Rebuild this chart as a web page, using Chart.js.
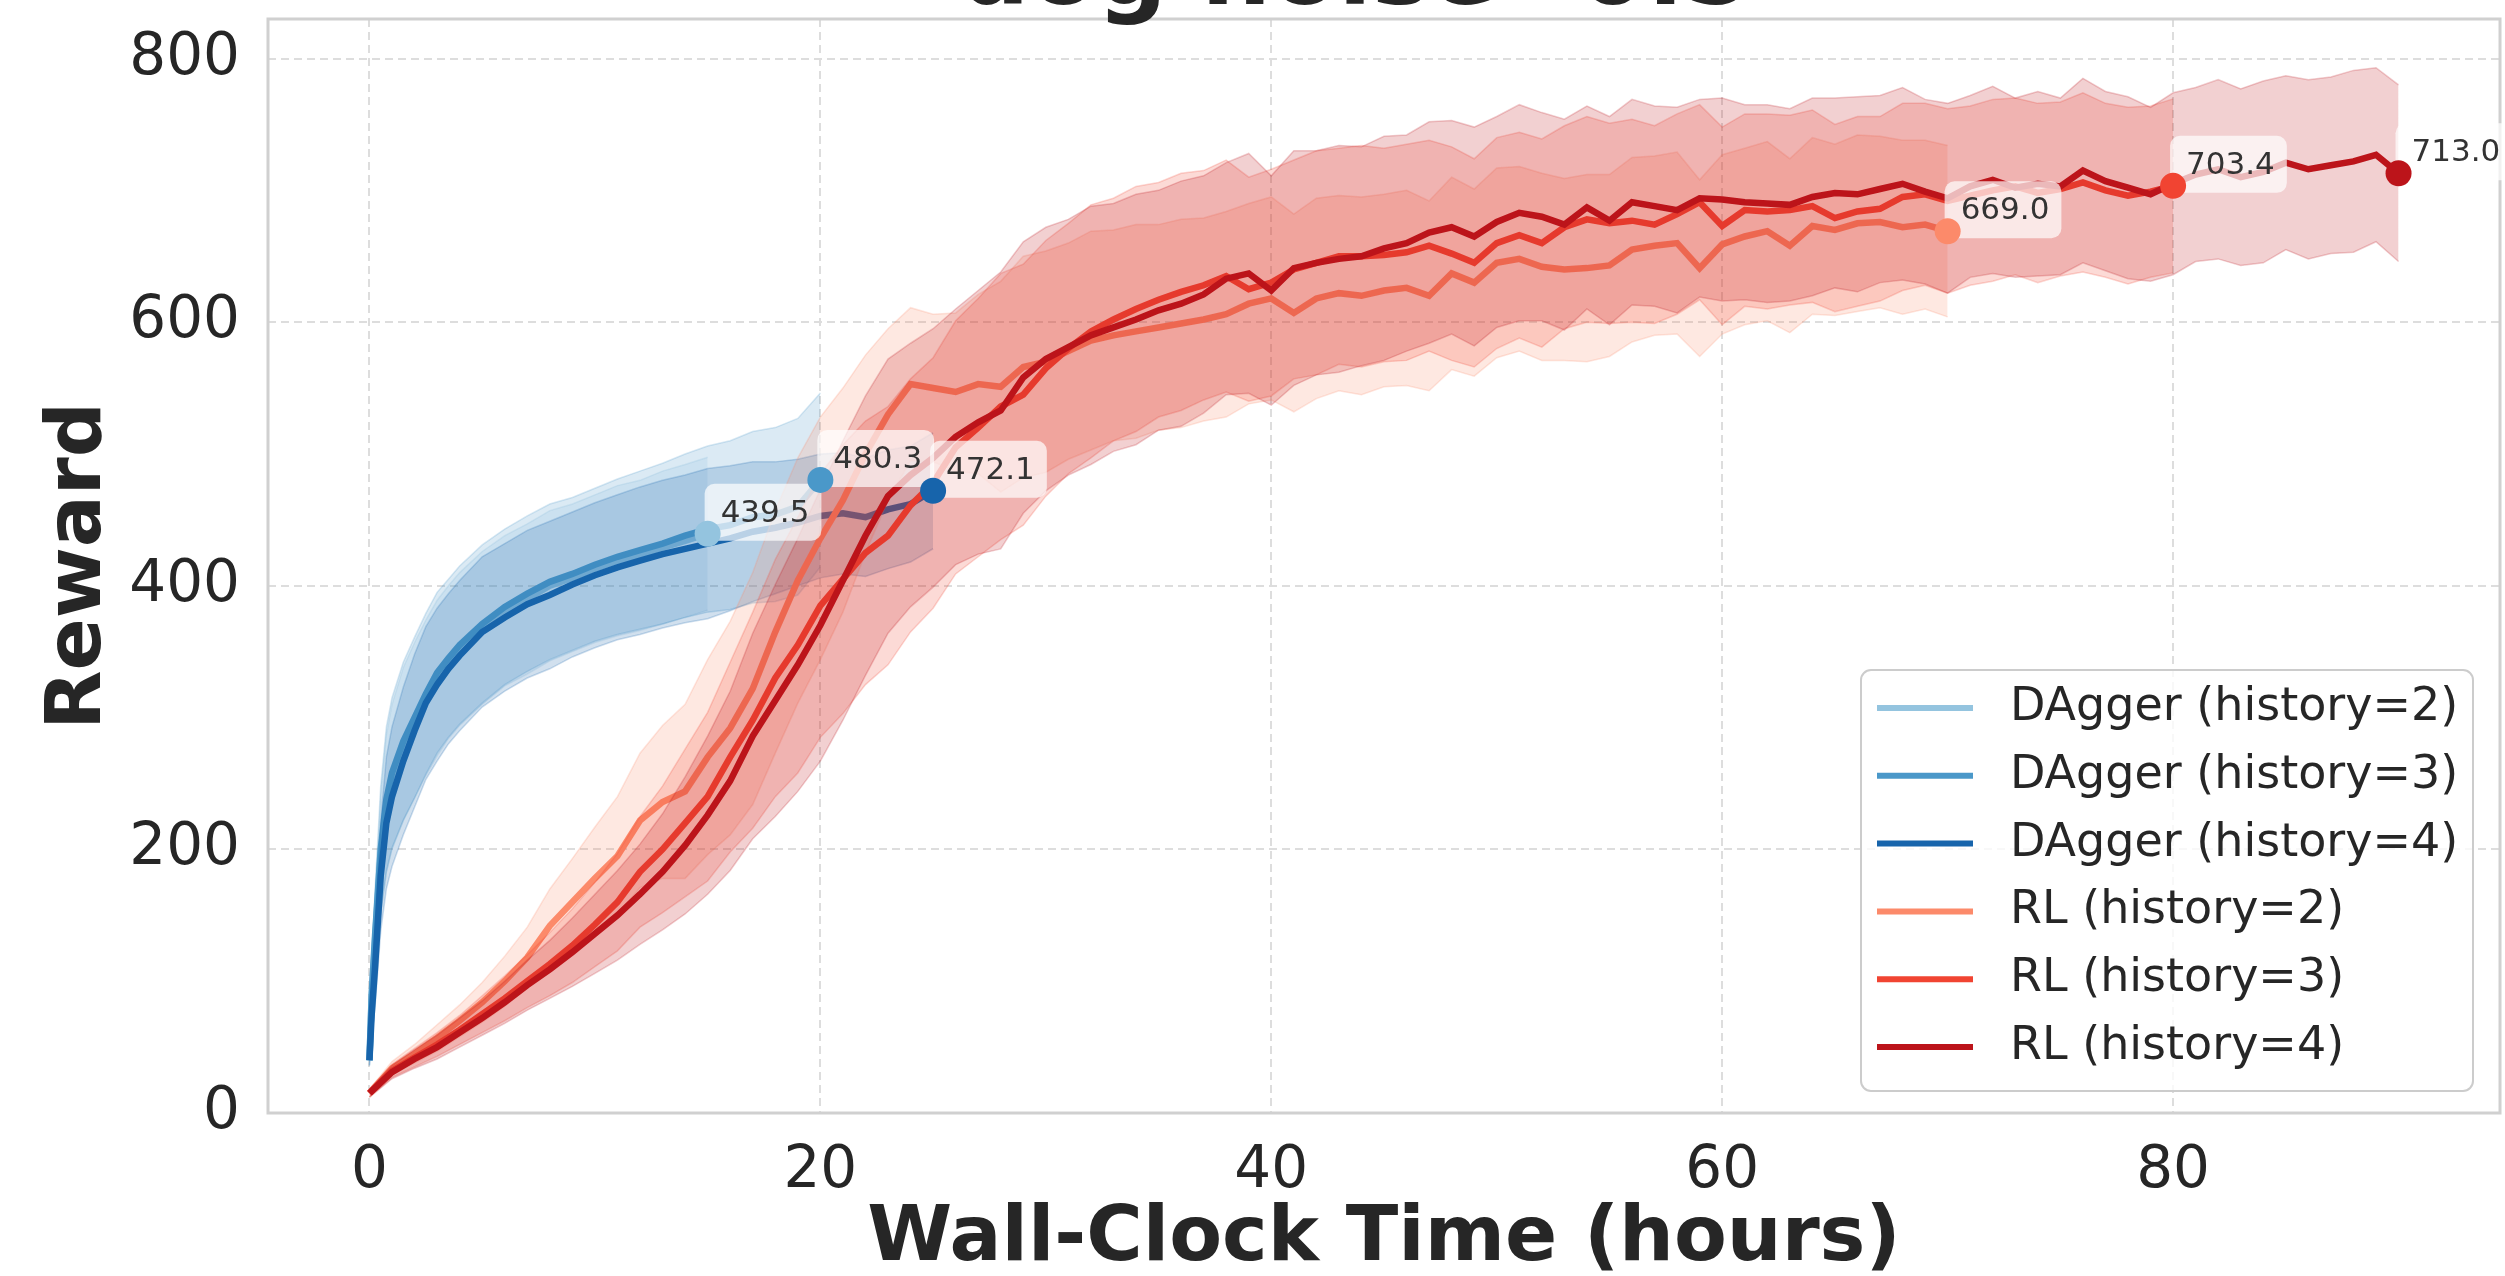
<!DOCTYPE html>
<html>
<head>
<meta charset="utf-8">
<title>Reward vs wall-clock time</title>
<script src="https://cdn.jsdelivr.net/npm/chart.js@4.4.1/dist/chart.umd.min.js"></script>
<style>
  html, body { margin: 0; padding: 0; background: #fff; }
  canvas { display: block; }
</style>
</head>
<body>
<canvas id="rewardChart" width="2505" height="1276"></canvas>
<script>
// Hours at which the DAgger runs were logged (denser at the start, where reward climbs fast)
var dagHours = [0, 0.1, 0.25, 0.5, 0.75, 1, 1.5, 2, 2.5, 3, 3.5, 4, 5, 6, 7, 8, 9, 10,
  11, 12, 13, 14, 15, 16, 17, 18, 19, 20, 21, 22, 23, 24, 25];

var dag2Mean = [40, 88, 132, 196, 235, 255, 280, 298, 315, 330, 342, 352, 368, 381, 390, 400,
  406, 413, 419, 423, 429, 434, 439.5];
var dag2Std = [4, 20, 33, 45, 52, 55, 58, 59, 59, 59, 58, 58, 58, 57, 57, 57, 56, 56, 57, 57,
  58, 58, 58];

var dag3Mean = [40, 90, 135, 200, 238, 258, 282, 300, 318, 334, 345, 355, 371, 384, 394, 403,
  409, 416, 422, 427, 432, 438, 443, 446, 452, 454, 460, 480.3];
var dag3Std = [4, 22, 35, 48, 55, 57, 60, 61, 61, 61, 60, 60, 60, 59, 59, 59, 58, 58, 59, 60,
  61, 62, 63, 64, 65, 66, 67, 66];

var dag4Mean = [40, 75, 111, 180, 220, 240, 267, 290, 311, 325, 337, 347, 365, 376, 386, 393,
  401, 408, 414, 419, 424, 428, 432, 436, 441, 444, 448, 453, 455, 452, 458, 462, 472.1];
var dag4Std = [4, 18, 30, 42, 50, 53, 56, 58, 58, 58, 57, 57, 57, 56, 56, 56, 55, 55, 55, 56,
  56, 56, 57, 55, 53, 50, 48, 47, 46, 45, 45, 44, 44];

// RL runs are logged once per hour
var rlHours = [0, 1, 2, 3, 4, 5, 6, 7, 8, 9, 10, 11, 12, 13, 14, 15, 16, 17, 18, 19,
  20, 21, 22, 23, 24, 25, 26, 27, 28, 29, 30, 31, 32, 33, 34, 35, 36, 37, 38, 39,
  40, 41, 42, 43, 44, 45, 46, 47, 48, 49, 50, 51, 52, 53, 54, 55, 56, 57, 58, 59,
  60, 61, 62, 63, 64, 65, 66, 67, 68, 69, 70, 71, 72, 73, 74, 75, 76, 77, 78, 79,
  80, 81, 82, 83, 84, 85, 86, 87, 88, 89, 90];

var rl2Mean = [15, 34, 45, 57, 70, 84, 100, 118, 142, 160,
  178, 195, 222, 236, 244, 270, 292, 322, 365, 404,
  436, 465, 500, 530, 553, 550, 547, 553, 551, 566,
  570, 578, 586, 590, 593, 596, 599, 602, 606, 614,
  618, 607, 618, 622, 620, 624, 626, 620, 637, 630,
  645, 648, 642, 640, 641, 643, 655, 658, 660, 641,
  659, 665, 669, 658, 673, 670, 675, 676, 672, 674,
  669.0];
var rl2Std = [3, 5, 7, 10, 12, 15, 19, 23, 28, 33,
  39, 45, 51, 58, 66, 74, 81, 88, 92, 93,
  92, 85, 75, 65, 58, 56, 60, 68, 80, 84,
  84, 82, 83, 80, 81, 78, 79, 77, 78, 76,
  77, 75, 76, 74, 75, 73, 74, 72, 73, 71,
  72, 70, 71, 69, 71, 69, 70, 68, 69, 67,
  68, 67, 68, 66, 67, 65, 67, 65, 66, 64,
  65];

var rl3Mean = [15, 32, 42, 52, 63, 75, 87, 100, 113, 127,
  143, 160, 183, 200, 220, 240, 270, 298, 330, 355,
  385, 405, 425, 438, 461, 478, 505, 520, 536, 545,
  565, 580, 593, 602, 610, 617, 623, 628, 635, 625,
  630, 640, 645, 650, 650, 651, 653, 658, 652, 645,
  660, 666, 660, 672, 678, 675, 677, 674, 682, 691,
  673, 685, 684, 685, 688, 679, 684, 686, 695, 697,
  692, 696, 700, 703, 698, 701, 706, 700, 696, 699,
  703.4];
var rl3Std = [3, 5, 7, 9, 11, 14, 17, 20, 24, 28,
  32, 37, 42, 48, 56, 64, 72, 82, 90, 97,
  100, 102, 100, 98, 96, 95, 96, 98, 101, 99,
  97, 95, 96, 92, 93, 89, 90, 87, 88, 85,
  86, 83, 85, 82, 84, 81, 82, 80, 81, 79,
  80, 78, 79, 77, 78, 76, 77, 75, 76, 74,
  75, 73, 74, 72, 73, 71, 72, 70, 71, 69,
  70, 68, 69, 67, 68, 66, 68, 66, 67, 65,
  66];

var rl4Mean = [15, 31, 41, 50, 61, 72, 84, 97, 109, 122,
  136, 150, 166, 183, 203, 226, 252, 286, 313, 340,
  370, 404, 438, 468, 484, 497, 513, 524, 533, 558,
  572, 581, 590, 596, 602, 609, 614, 621, 633, 637,
  624, 641, 645, 648, 650, 656, 660, 668, 672, 665,
  676, 683, 680, 674, 687, 677, 691, 688, 685, 694,
  693, 691, 690, 689, 695, 698, 697, 701, 705, 699,
  694, 703, 708, 702, 705, 703, 715, 707, 702, 697,
  705, 712, 716, 710, 714, 721, 716, 719, 722, 727,
  713.0];
var rl4Std = [3, 5, 7, 9, 11, 13, 16, 19, 22, 26,
  30, 34, 38, 44, 52, 60, 68, 78, 88, 96,
  103, 106, 106, 104, 100, 98, 97, 100, 105, 103,
  100, 97, 98, 94, 95, 91, 93, 90, 88, 91,
  87, 89, 85, 86, 83, 85, 82, 84, 81, 83,
  80, 82, 79, 80, 77, 79, 78, 76, 78, 75,
  77, 74, 75, 73, 75, 72, 74, 71, 73, 70,
  72, 69, 71, 68, 70, 67, 70, 68, 69, 66,
  69, 66, 68, 67, 69, 66, 68, 67, 69, 66,
  67];

var xTicks = [0, 20, 40, 60, 80];
var yTicks = [0, 200, 400, 600, 800];

var FONT = "'DejaVu Sans', sans-serif";
var TEXT = '#262626';

var series = [
  { label: 'DAgger (history=2)', color: '#94c4df', hours: dagHours, mean: dag2Mean, std: dag2Std },
  { label: 'DAgger (history=3)', color: '#4a98c9', hours: dagHours, mean: dag3Mean, std: dag3Std },
  { label: 'DAgger (history=4)', color: '#1764ab', hours: dagHours, mean: dag4Mean, std: dag4Std },
  { label: 'RL (history=2)', color: '#fc8a6a', hours: rlHours, mean: rl2Mean, std: rl2Std },
  { label: 'RL (history=3)', color: '#f14432', hours: rlHours, mean: rl3Mean, std: rl3Std },
  { label: 'RL (history=4)', color: '#bc141a', hours: rlHours, mean: rl4Mean, std: rl4Std }
];

function rgba(hex, a) {
  var n = parseInt(hex.slice(1), 16);
  return 'rgba(' + (n >> 16) + ',' + ((n >> 8) & 255) + ',' + (n & 255) + ',' + a + ')';
}

function roundRect(ctx, x, y, w, h, r) {
  ctx.beginPath();
  ctx.moveTo(x + r, y);
  ctx.lineTo(x + w - r, y);
  ctx.arcTo(x + w, y, x + w, y + r, r);
  ctx.lineTo(x + w, y + h - r);
  ctx.arcTo(x + w, y + h, x + w - r, y + h, r);
  ctx.lineTo(x + r, y + h);
  ctx.arcTo(x, y + h, x, y + h - r, r);
  ctx.lineTo(x, y + r);
  ctx.arcTo(x, y, x + r, y, r);
  ctx.closePath();
}

// Each run gets a lower edge, an upper edge filled down to it, then the mean line.
// Higher `order` is drawn first, so bands and lines stack in series order.
var datasets = [];
series.forEach(function(s, i) {
  var lowIdx = datasets.length;
  var base = 100 - 3 * i;
  datasets.push({
    label: s.label + ' lower',
    data: s.mean.map(function(v, k) { return { x: s.hours[k], y: v - s.std[k] }; }),
    borderColor: rgba(s.color, 0.22),
    borderWidth: 1.5,
    pointRadius: 0,
    fill: false,
    order: base
  });
  datasets.push({
    label: s.label + ' upper',
    data: s.mean.map(function(v, k) { return { x: s.hours[k], y: v + s.std[k] }; }),
    borderColor: rgba(s.color, 0.22),
    borderWidth: 1.5,
    pointRadius: 0,
    fill: { target: lowIdx, above: rgba(s.color, 0.2), below: rgba(s.color, 0.2) },
    order: base - 1
  });
  datasets.push({
    label: s.label,
    data: s.mean.map(function(v, k) { return { x: s.hours[k], y: v }; }),
    borderColor: s.color,
    borderWidth: 6.5,
    pointRadius: 0,
    fill: false,
    order: base - 2
  });
});

// Axes frame, then the final-value tag and end marker of every run
var endLabels = {
  id: 'endLabels',
  afterDatasetsDraw: function(chart) {
    var ctx = chart.ctx;
    var area = chart.chartArea;
    var xs = chart.scales.x, ys = chart.scales.y;

    ctx.save();
    ctx.strokeStyle = '#d0d0d0';
    ctx.lineWidth = 3;
    ctx.strokeRect(area.left, area.top, area.right - area.left, area.bottom - area.top);

    ctx.font = '31px ' + FONT;
    ctx.textAlign = 'left';
    ctx.textBaseline = 'alphabetic';
    series.forEach(function(s) {
      var last = s.mean.length - 1;
      var px = xs.getPixelForValue(s.hours[last]);
      var py = ys.getPixelForValue(s.mean[last]);
      var txt = s.mean[last].toFixed(1);
      var w = ctx.measureText(txt).width;
      ctx.fillStyle = 'rgba(255,255,255,0.7)';
      roundRect(ctx, px - 3, py - 50, w + 28, 57, 10);
      ctx.fill();
      ctx.fillStyle = '#333333';
      ctx.fillText(txt, px + 13, py - 12);

      ctx.fillStyle = s.color;
      ctx.beginPath();
      ctx.arc(px, py, 13, 0, Math.PI * 2);
      ctx.fill();
    });
    ctx.restore();
  }
};

// Legend box in the lower right of the plot, and the figure title above the axes
var legendAndTitle = {
  id: 'legendAndTitle',
  afterDraw: function(chart) {
    var ctx = chart.ctx;
    ctx.save();
    ctx.fillStyle = 'rgba(255,255,255,0.8)';
    ctx.strokeStyle = '#cccccc';
    ctx.lineWidth = 2;
    roundRect(ctx, 1861, 670, 612, 421, 10);
    ctx.fill();
    ctx.stroke();

    ctx.font = '46px ' + FONT;
    ctx.textAlign = 'left';
    ctx.textBaseline = 'middle';
    series.forEach(function(s, i) {
      var rowY = 708 + i * 67.8;
      ctx.strokeStyle = s.color;
      ctx.lineWidth = 6;
      ctx.beginPath();
      ctx.moveTo(1877, rowY);
      ctx.lineTo(1973, rowY);
      ctx.stroke();
      ctx.fillStyle = TEXT;
      ctx.fillText(s.label, 2010, rowY);
    });

    ctx.font = 'bold 98px ' + FONT;
    ctx.textAlign = 'center';
    ctx.textBaseline = 'alphabetic';
    ctx.fillStyle = TEXT;
    ctx.fillText('dog noise=0.5', 1356, 4);
    ctx.restore();
  }
};

// Keep the plot box fixed: no extra room reserved for the edge tick labels
function noEdgePadding(scale) {
  scale.paddingTop = 0;
  scale.paddingBottom = 0;
  scale.paddingLeft = 0;
  scale.paddingRight = 0;
}

new Chart(document.getElementById('rewardChart'), {
  type: 'line',
  data: { datasets: datasets },
  options: {
    responsive: false,
    animation: false,
    events: [],
    layout: { padding: { left: 0, right: 5, top: 19, bottom: 0 } },
    elements: { line: { tension: 0 } },
    plugins: {
      legend: { display: false },
      tooltip: { enabled: false },
      filler: { propagate: false }
    },
    scales: {
      x: {
        type: 'linear',
        min: -4.5,
        max: 94.5,
        afterBuildTicks: function(scale) {
          scale.ticks = xTicks.map(function(v) { return { value: v }; });
        },
        afterFit: function(scale) {
          scale.height = 163;
          noEdgePadding(scale);
        },
        ticks: { font: { family: FONT, size: 58 }, color: TEXT, padding: 24, maxRotation: 0 },
        grid: { color: '#dddddd', lineWidth: 2, drawTicks: false },
        border: { display: false, dash: [8, 5] },
        title: {
          display: true,
          text: 'Wall-Clock Time (hours)',
          color: TEXT,
          font: { family: FONT, size: 77, weight: 'bold', lineHeight: 0.9 },
          padding: { top: 0, bottom: 1 }
        }
      },
      y: {
        type: 'linear',
        min: 0,
        max: 830,
        afterBuildTicks: function(scale) {
          scale.ticks = yTicks.map(function(v) { return { value: v }; });
        },
        afterFit: function(scale) {
          scale.width = 268;
          noEdgePadding(scale);
        },
        ticks: { font: { family: FONT, size: 58 }, color: TEXT, padding: 28 },
        grid: { color: '#dddddd', lineWidth: 2, drawTicks: false },
        border: { display: false, dash: [8, 5] },
        title: {
          display: true,
          text: 'Reward',
          color: TEXT,
          font: { family: FONT, size: 77, weight: 'bold', lineHeight: 0.9 },
          padding: { top: 45, bottom: 0 }
        }
      }
    }
  },
  plugins: [endLabels, legendAndTitle]
});
</script>
</body>
</html>
